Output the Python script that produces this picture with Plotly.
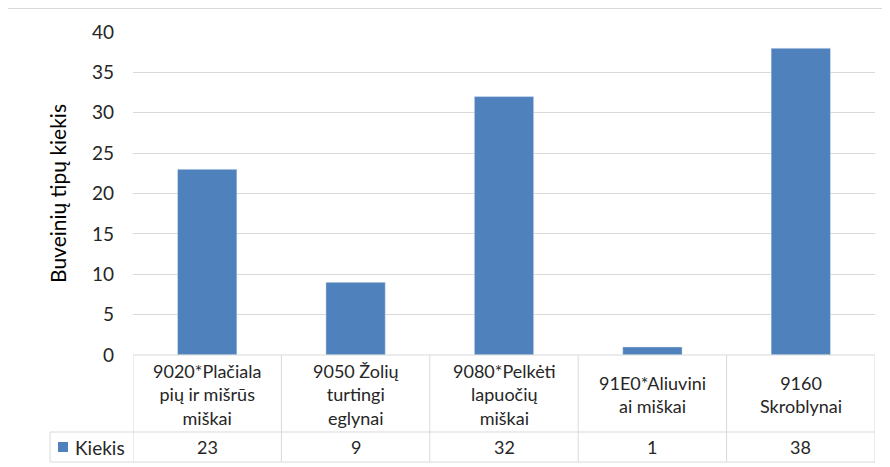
import plotly.graph_objects as go

categories = ["9020*Plačiala<br>pių ir mišrūs<br>miškai", "9050 Žolių<br>turtingi<br>eglynai",
              "9080*Pelkėti<br>lapuočių<br>miškai", "91E0*Aliuvini<br>ai miškai", "9160<br>Skroblynai"]
values = [23, 9, 32, 1, 38]
series_name = "Kiekis"
y_title = "Buveinių tipų kiekis"

OFF = 8  # default page body margin
W, H = 890 - OFF, 467 - OFF
L, R, T, B = 133 - OFF, 15, 32 - OFF, 112
ph = H - T - B
BLUE = "#4F81BD"
GRID = "#D9D9D9"
FONT = "Lato, Carlito, Calibri, sans-serif"
TXT = "#262626"


def py(p):
    return (H - B - (p - OFF)) / ph


def px(p):
    return ((p - OFF) - L) / (W - L - R)


x_idx = list(range(len(categories)))
fig = go.Figure(go.Bar(x=x_idx, y=values, marker_color=BLUE, width=0.4, name=series_name))

shapes = []
line = dict(color=GRID, width=1)
n = len(categories)
shapes.append(dict(type="line", xref="x", yref="paper", x0=-0.5, x1=n - 0.5, y0=py(355), y1=py(355), line=line))
shapes.append(dict(type="line", xref="paper", yref="paper", x0=px(50), x1=1, y0=py(432), y1=py(432), line=line))
shapes.append(dict(type="line", xref="paper", yref="paper", x0=px(50), x1=1, y0=py(462), y1=py(462), line=line))
shapes.append(dict(type="line", xref="paper", yref="paper", x0=px(50), x1=px(50), y0=py(432), y1=py(462), line=line))
for i in range(n + 1):
    shapes.append(dict(type="line", xref="x", yref="paper", x0=i - 0.5, x1=i - 0.5, y0=py(355), y1=py(462), line=line))
shapes.append(dict(type="rect", xref="paper", yref="paper", x0=px(58), x1=px(68), y0=py(452), y1=py(442),
                   fillcolor=BLUE, line=dict(width=0)))
shapes.append(dict(type="rect", xref="paper", yref="paper", x0=px(7), x1=px(900), y0=py(8), y1=py(480),
                   line=dict(color="#D9D9D9", width=2), fillcolor="rgba(0,0,0,0)", layer="below"))

annotations = []
for i, (c, v) in enumerate(zip(categories, values)):
    annotations.append(dict(x=i, y=py(394), xref="x", yref="paper", text=c, showarrow=False,
                            font=dict(size=18, color=TXT, family=FONT), align="center",
                            xanchor="center", yanchor="middle"))
    annotations.append(dict(x=i, y=py(447), xref="x", yref="paper", text=str(v), showarrow=False,
                            font=dict(size=18, color=TXT, family=FONT), xanchor="center", yanchor="middle"))
annotations.append(dict(x=px(73), y=py(447), xref="paper", yref="paper", text=series_name, showarrow=False,
                        font=dict(size=19, color=TXT, family=FONT), xanchor="left", yanchor="middle"))

fig.update_layout(
    width=W, height=H,
    margin=dict(l=L, r=R, t=T, b=B),
    paper_bgcolor="white", plot_bgcolor="white",
    showlegend=False,
    shapes=shapes, annotations=annotations,
    font=dict(family=FONT, color=TXT, size=18),
    xaxis=dict(range=[-0.5, n - 0.5], showticklabels=False, showgrid=False, zeroline=False,
               showline=False, ticks=""),
    yaxis=dict(range=[0, 40], dtick=5, showgrid=True, gridcolor=GRID, gridwidth=1, zeroline=False,
               showline=False, ticks="", ticklabelstandoff=18, tickfont=dict(size=19, color=TXT),
               title=dict(text=y_title, font=dict(size=21, color="#000000"), standoff=19)),
)

fig.write_html("out.html")
